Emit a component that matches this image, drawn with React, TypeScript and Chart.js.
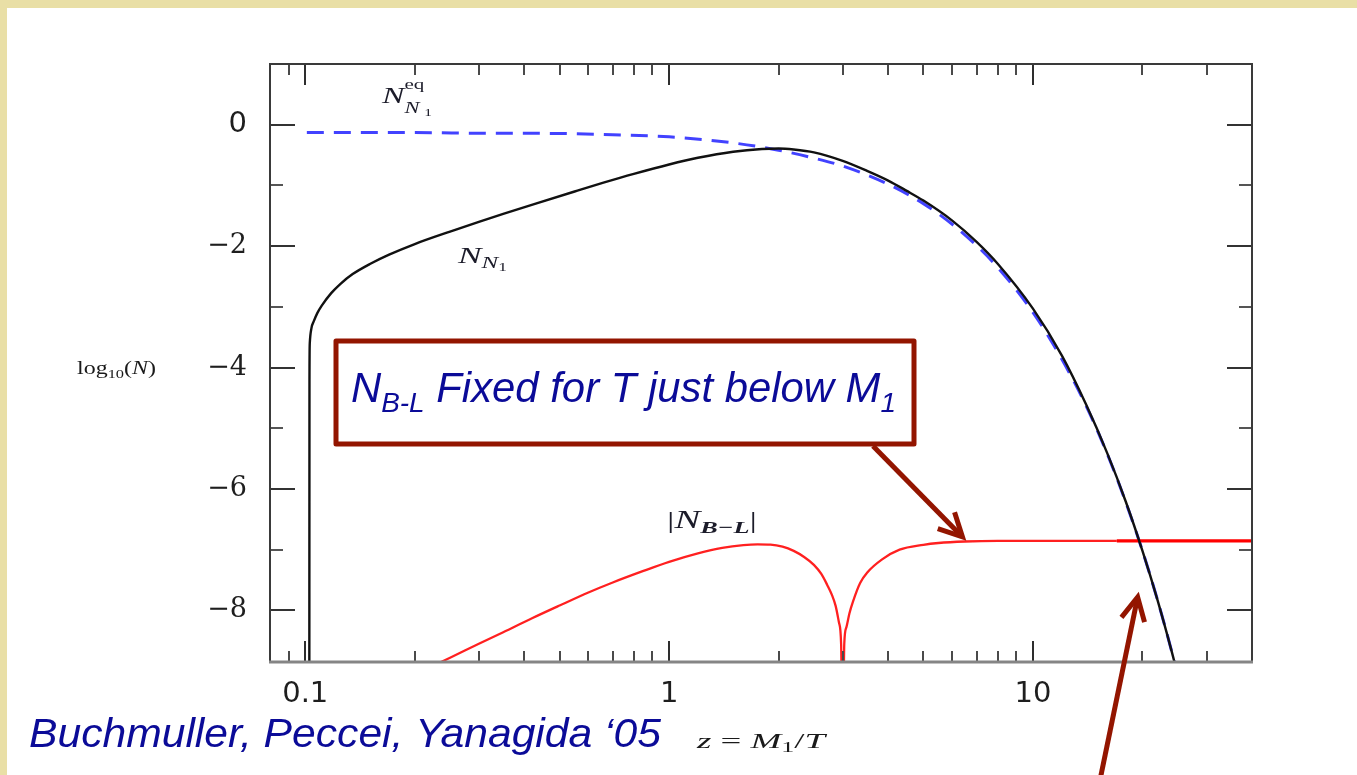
import React, { useEffect, useRef } from 'react';
import { Chart, registerables } from 'chart.js';

Chart.register(...registerables);

// ---- data ----
// equilibrium abundance N_N1^eq : z and log10(N)
const eqZ = [0.101, 0.15, 0.2, 0.3, 0.5, 0.7, 1.0, 1.5, 2.0, 2.5, 3.0, 4.0, 5.0, 6.0, 7.0, 8.0, 10, 12, 14, 16, 18, 20, 22, 24, 26];
const eqLog = [-0.13, -0.13, -0.13, -0.14, -0.145, -0.165, -0.2, -0.3, -0.42, -0.55, -0.68, -0.98, -1.3, -1.64, -1.99, -2.35, -3.09, -3.86, -4.63, -5.42, -6.22, -7.02, -7.83, -8.65, -9.47];

// N_N1 abundance
const n1Z = [0.1026, 0.1027, 0.1029, 0.104, 0.1055, 0.108, 0.111, 0.118, 0.125, 0.135, 0.151, 0.17, 0.2, 0.25, 0.3, 0.35, 0.43, 0.55, 0.66, 0.8, 1.0, 1.2, 1.5, 1.8, 2.0, 2.2, 2.5, 3.0, 3.5, 4.0, 4.5, 5.0, 6.0, 7.0, 8.0, 10, 12, 14, 16, 18, 20, 22, 24, 26];
const n1Log = [-10, -4.2, -3.6, -3.35, -3.24, -3.1, -2.98, -2.77, -2.62, -2.46, -2.29, -2.14, -1.965, -1.76, -1.6, -1.47, -1.3, -1.1, -0.955, -0.81, -0.655, -0.545, -0.445, -0.4, -0.392, -0.408, -0.455, -0.595, -0.76, -0.92, -1.09, -1.25, -1.58, -1.93, -2.29, -3.03, -3.8, -4.61, -5.41, -6.21, -7.02, -7.83, -8.65, -9.47];

// |N_B-L|
const blZ = [0.225, 0.25, 0.3, 0.35, 0.42, 0.5, 0.6, 0.7, 0.85, 1.0, 1.2, 1.4, 1.6, 1.75, 1.9, 2.05, 2.2, 2.35, 2.5, 2.62, 2.72, 2.8, 2.87, 2.93, 2.97, 3.0, 3.03, 3.07, 3.13, 3.2, 3.35, 3.5, 3.85, 4.3, 5.0, 5.5, 6.5, 8, 12, 17, 20, 40];
const blLog = [-8.91, -8.78, -8.55, -8.36, -8.13, -7.92, -7.705, -7.54, -7.35, -7.2, -7.06, -6.97, -6.925, -6.913, -6.917, -6.95, -7.02, -7.12, -7.25, -7.4, -7.58, -7.74, -7.93, -8.2, -8.55, -10.5, -8.55, -8.28, -8.05, -7.86, -7.55, -7.38, -7.16, -7.0, -6.92, -6.89, -6.865, -6.855, -6.855, -6.855, -6.855, -6.855];

// axes
const xTickValues = [0.1, 1, 10];
const xTickLabels = ['0.1', '1', '10'];
const xMinorTicks = [0.09, 0.2, 0.3, 0.4, 0.5, 0.6, 0.7, 0.8, 0.9, 2, 3, 4, 5, 6, 7, 8, 9, 20, 30];
const yTickValues = [0, -2, -4, -6, -8];
const yTickLabels = ['0', '−2', '−4', '−6', '−8'];
const yMinorTicks = [-1, -3, -5, -7];
const X_MIN = 0.08;
const X_MAX = 40;
const Y_MIN = -8.85;
const Y_MAX = 1.0;

// ---- helpers ----
type Part = { t: string; f: string; dy?: number; over?: boolean };

function layoutParts(ctx: CanvasRenderingContext2D, parts: Part[]) {
  let x = 0;
  let prevStart = 0;
  let prevEnd = 0;
  const out: { p: Part; x: number }[] = [];
  for (const p of parts) {
    ctx.font = p.f;
    const w = ctx.measureText(p.t).width;
    const start = p.over ? prevStart : x;
    const end = start + w;
    out.push({ p, x: start });
    x = p.over ? Math.max(prevEnd, end) : end;
    prevStart = start;
    prevEnd = end;
  }
  return { items: out, width: x };
}

function drawRich(
  ctx: CanvasRenderingContext2D,
  left: number,
  baseline: number,
  parts: Part[],
  color: string,
  targetWidth?: number
) {
  ctx.save();
  const { items, width } = layoutParts(ctx, parts);
  const sx = targetWidth ? targetWidth / width : 1;
  ctx.translate(left, baseline);
  ctx.scale(sx, 1);
  ctx.fillStyle = color;
  ctx.textBaseline = 'alphabetic';
  ctx.textAlign = 'left';
  for (const it of items) {
    ctx.font = it.p.f;
    ctx.fillText(it.p.t, it.x, it.p.dy || 0);
  }
  ctx.restore();
}

function arrow(ctx: CanvasRenderingContext2D, x1: number, y1: number, x2: number, y2: number) {
  const ang = Math.atan2(y2 - y1, x2 - x1);
  const L = 26;
  const h = 0.47;
  ctx.beginPath();
  ctx.moveTo(x1, y1);
  ctx.lineTo(x2 - 2 * Math.cos(ang), y2 - 2 * Math.sin(ang));
  ctx.stroke();
  ctx.beginPath();
  ctx.moveTo(x2 - L * Math.cos(ang - h), y2 - L * Math.sin(ang - h));
  ctx.lineTo(x2, y2);
  ctx.lineTo(x2 - L * Math.cos(ang + h), y2 - L * Math.sin(ang + h));
  ctx.stroke();
}

const SERIF = '"Liberation Serif", "DejaVu Serif", serif';
const SANS = '"Liberation Sans", Arial, sans-serif';
const MATH_COLOR = '#1c1c2a';
const CALLOUT = '#931500';
const NAVY = '#0b0b98';

const frameTicks = {
  id: 'frameTicks',
  afterDatasetsDraw(chart: any) {
    const { ctx, chartArea: a } = chart;
    const xs = chart.scales.x;
    const ys = chart.scales.y;
    ctx.save();
    ctx.lineCap = 'butt';
    const seg = (x1: number, y1: number, x2: number, y2: number) => {
      ctx.beginPath();
      ctx.moveTo(x1, y1);
      ctx.lineTo(x2, y2);
      ctx.stroke();
    };
    ctx.lineWidth = 2;
    ctx.strokeStyle = '#2e2e2e';
    for (const v of xTickValues) {
      const p = Math.round(xs.getPixelForValue(v));
      seg(p, a.bottom, p, a.bottom - 21);
      seg(p, a.top, p, a.top + 21);
    }
    ctx.strokeStyle = '#4a4a4a';
    for (const v of xMinorTicks) {
      const p = Math.round(xs.getPixelForValue(v));
      seg(p, a.bottom, p, a.bottom - 11);
      seg(p, a.top, p, a.top + 11);
    }
    ctx.strokeStyle = '#333';
    for (const v of yTickValues) {
      const p = Math.round(ys.getPixelForValue(v));
      seg(a.left, p, a.left + 25, p);
      seg(a.right, p, a.right - 25, p);
    }
    ctx.strokeStyle = '#555';
    for (const v of yMinorTicks) {
      const p = Math.round(ys.getPixelForValue(v));
      seg(a.left, p, a.left + 13, p);
      seg(a.right, p, a.right - 13, p);
    }
    ctx.strokeStyle = '#3a3a3a';
    ctx.lineWidth = 2;
    ctx.beginPath();
    ctx.moveTo(a.left, a.bottom);
    ctx.lineTo(a.left, a.top);
    ctx.lineTo(a.right, a.top);
    ctx.lineTo(a.right, a.bottom);
    ctx.stroke();
    ctx.strokeStyle = '#858585';
    ctx.lineWidth = 3;
    seg(a.left - 1, a.bottom, a.right + 1, a.bottom);
    ctx.restore();
  },
};

const annotations = {
  id: 'annotations',
  afterDraw(chart: any) {
    const { ctx } = chart;
    const xs = chart.scales.x;
    const ys = chart.scales.y;
    const px = (z: number) => xs.getPixelForValue(z);
    const py = (v: number) => ys.getPixelForValue(v);

    // curve labels (figure typography)
    drawRich(ctx, 382, 103, [
      { t: 'N', f: `italic 24px ${SERIF}` },
      { t: 'eq', f: `15px ${SERIF}`, dy: -14 },
      { t: 'N', f: `italic 16px ${SERIF}`, dy: 10, over: true },
      { t: '1', f: `11px ${SERIF}`, dy: 13 },
    ], MATH_COLOR, 50);
    drawRich(ctx, 458, 263, [
      { t: 'N', f: `italic 24px ${SERIF}` },
      { t: 'N', f: `italic 17px ${SERIF}`, dy: 5 },
      { t: '1', f: `12px ${SERIF}`, dy: 8 },
    ], MATH_COLOR, 49);
    drawRich(ctx, 667, 528, [
      { t: '|', f: `24px ${SERIF}` },
      { t: 'N', f: `italic 25px ${SERIF}` },
      { t: 'B−L', f: `bold italic 17px ${SERIF}`, dy: 5 },
      { t: '|', f: `24px ${SERIF}` },
    ], MATH_COLOR, 90);
    drawRich(ctx, 77, 374, [
      { t: 'log', f: `19px ${SERIF}` },
      { t: '10', f: `13px ${SERIF}`, dy: 4 },
      { t: '(', f: `19px ${SERIF}` },
      { t: 'N', f: `italic 19px ${SERIF}` },
      { t: ')', f: `19px ${SERIF}` },
    ], '#1a1a1a', 79);
    drawRich(ctx, 697, 748, [
      { t: 'z', f: `italic 20px ${SERIF}` },
      { t: ' = ', f: `20px ${SERIF}` },
      { t: 'M', f: `italic 20px ${SERIF}` },
      { t: '1', f: `14px ${SERIF}`, dy: 4 },
      { t: '/', f: `20px ${SERIF}` },
      { t: 'T', f: `italic 20px ${SERIF}` },
    ], '#1a1a1a', 128);

    // callout box
    ctx.save();
    ctx.strokeStyle = CALLOUT;
    ctx.fillStyle = '#ffffff';
    ctx.lineWidth = 5;
    ctx.lineJoin = 'round';
    ctx.beginPath();
    ctx.rect(336, 341, 578, 103);
    ctx.fill();
    ctx.stroke();
    ctx.restore();
    drawRich(ctx, 351, 402, [
      { t: 'N', f: `italic 42px ${SANS}` },
      { t: 'B-L', f: `italic 28px ${SANS}`, dy: 10 },
      { t: ' Fixed for T just below M', f: `italic 42px ${SANS}` },
      { t: '1', f: `italic 28px ${SANS}`, dy: 10 },
    ], NAVY, 545);

    // arrows
    ctx.save();
    ctx.strokeStyle = CALLOUT;
    ctx.lineWidth = 5;
    ctx.lineJoin = 'miter';
    ctx.lineCap = 'butt';
    arrow(ctx, 873, 446, px(6.4), py(-6.79));
    arrow(ctx, 1100, 780, px(19.4), py(-7.78));
    ctx.restore();

    // citation
    drawRich(ctx, 29, 747, [
      { t: 'Buchmuller, Peccei, Yanagida ‘05', f: `italic 41px ${SANS}` },
    ], NAVY, 632);
  },
};

const toPts = (xs: number[], ys: number[]) => xs.map((x, i) => ({ x, y: ys[i] }));

export default function App() {
  const ref = useRef<HTMLCanvasElement | null>(null);

  useEffect(() => {
    if (!ref.current) return;
    const chart = new Chart(ref.current, {
      type: 'line',
      data: {
        datasets: [
          {
            label: 'N_N1',
            data: toPts(n1Z, n1Log),
            borderColor: '#111111',
            borderWidth: 2.4,
            pointRadius: 0,
            fill: false,
            cubicInterpolationMode: 'monotone',
          },
          {
            label: '|N_B-L|',
            data: toPts(blZ, blLog),
            borderColor: '#ff2020',
            borderWidth: 2.3,
            pointRadius: 0,
            fill: false,
            cubicInterpolationMode: 'monotone',
            segment: {
              borderColor: (c: any) => (c.p0.parsed.x >= 17 ? '#ff0000' : undefined),
              borderWidth: (c: any) => (c.p0.parsed.x >= 17 ? 3.2 : undefined),
            },
          },
          {
            label: 'N_eq',
            data: toPts(eqZ, eqLog),
            borderColor: 'rgba(40,40,255,0.88)',
            borderWidth: 3,
            borderDash: [17, 10],
            pointRadius: 0,
            fill: false,
            cubicInterpolationMode: 'monotone',
          },
        ],
      } as any,
      options: {
        responsive: false,
        animation: false,
        devicePixelRatio: 1,
        events: [],
        layout: { padding: { left: 0, top: 64, right: 105, bottom: 0 } },
        plugins: { legend: { display: false }, tooltip: { enabled: false } },
        scales: {
          x: {
            type: 'logarithmic',
            position: 'bottom',
            min: X_MIN,
            max: X_MAX,
            grid: { display: false, drawTicks: false },
            border: { display: false },
            afterBuildTicks: (s: any) => {
              s.ticks = xTickValues.map((v) => ({ value: v }));
            },
            afterFit: (s: any) => {
              s.height = 113;
            },
            ticks: {
              autoSkip: false,
              maxRotation: 0,
              minRotation: 0,
              padding: 15,
              color: '#1e1e1e',
              font: { family: '"DejaVu Sans", sans-serif', size: 29 },
              callback: (_v: any, i: number) => xTickLabels[i] ?? '',
            },
          },
          y: {
            type: 'linear',
            min: Y_MIN,
            max: Y_MAX,
            grid: { display: false, drawTicks: false },
            border: { display: false },
            afterBuildTicks: (s: any) => {
              s.ticks = yTickValues.map((v) => ({ value: v }));
            },
            afterFit: (s: any) => {
              s.width = 270;
            },
            ticks: {
              autoSkip: false,
              padding: 23,
              color: '#1e1e1e',
              font: (c: any) =>
                c.tick && c.tick.value === 0
                  ? { family: '"DejaVu Sans", sans-serif', size: 29 }
                  : { family: '"DejaVu Serif", serif', size: 27 },
              callback: (_v: any, i: number) => yTickLabels[i] ?? '',
            },
          },
        },
      } as any,
      plugins: [frameTicks, annotations] as any,
    });
    return () => chart.destroy();
  }, []);

  return (
    <div style={{ position: 'absolute', left: 0, top: 0, width: 1357, height: 775, background: '#E9DFA6', overflow: 'hidden' }}>
      <div style={{ position: 'absolute', left: 7, top: 8, right: 0, bottom: 0, background: '#ffffff' }} />
      <canvas ref={ref} width={1357} height={775} style={{ position: 'absolute', left: 0, top: 0, width: 1357, height: 775 }} />
    </div>
  );
}
